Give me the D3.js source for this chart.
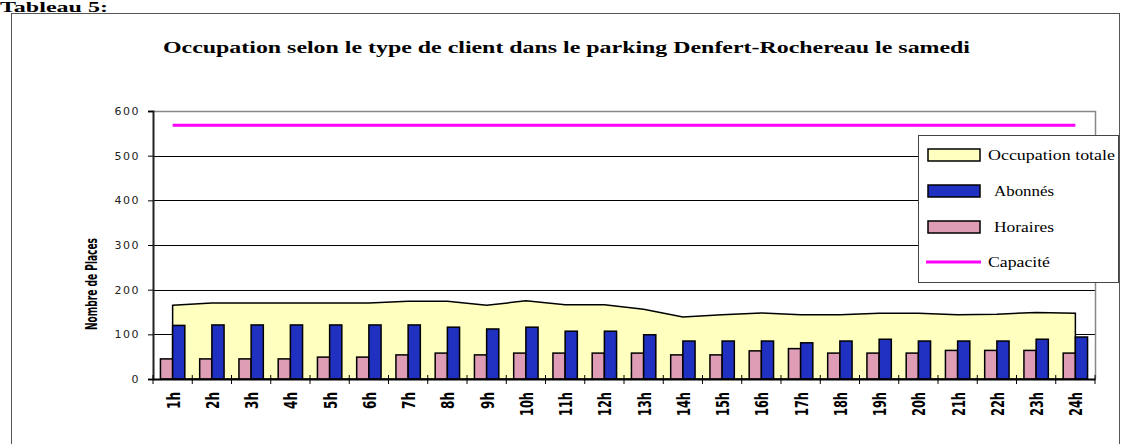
<!DOCTYPE html>
<html>
<head>
<meta charset="utf-8">
<script src="https://cdn.jsdelivr.net/npm/d3@7"></script>
<style>
  body { margin: 0; background: #fff; }
  svg { display: block; }
</style>
</head>
<body>
<div id="chart"></div>
<script>
// Occupation par heure - parking Denfert-Rochereau, samedi
const hours = ['1h','2h','3h','4h','5h','6h','7h','8h','9h','10h','11h','12h',
               '13h','14h','15h','16h','17h','18h','19h','20h','21h','22h','23h','24h'];
const totale  = [165,170,170,170,170,170,174,174,165,175,166,166,156,139,144,148,144,144,147,147,144,145,149,147];
const abonnes = [120,121,121,121,121,121,121,116,112,116,107,107,99,85,85,85,81,85,89,85,85,85,89,94];
const horaires = [45,45,45,45,49,49,54,58,54,58,58,58,58,54,54,63,68,58,58,58,64,64,64,58];
const capacite = 568;
const yTicks = [0, 100, 200, 300, 400, 500, 600];
const legendItems = ['Occupation totale', 'Abonnés', 'Horaires', 'Capacité'];

const W = 1126, H = 444;
const plotL = 153, plotR = 1095, plotT = 111, plotB = 379;
const serif = '"Liberation Serif", "DejaVu Serif", serif';

const svg = d3.select('#chart').append('svg')
    .attr('width', W).attr('height', H);

// page heading
svg.append('text')
    .attr('x', 0).attr('y', 12)
    .attr('textLength', 108).attr('lengthAdjust', 'spacingAndGlyphs')
    .style('font-family', serif).style('font-weight', 'bold').style('font-size', '14px')
    .text('Tableau 5:');

// outer frame
svg.append('rect')
    .attr('x', 11.5).attr('y', 13.5).attr('width', 1108).attr('height', 460)
    .attr('fill', 'none').attr('stroke', '#555').attr('stroke-width', 1);

// title
svg.append('text')
    .attr('x', 163).attr('y', 53)
    .attr('textLength', 807).attr('lengthAdjust', 'spacingAndGlyphs')
    .style('font-family', serif).style('font-weight', 'bold').style('font-size', '16px')
    .text('Occupation selon le type de client dans le parking Denfert-Rochereau le samedi');

// scales
const x = d3.scaleBand().domain(hours).range([plotL, plotR]).padding(0);
const xSub = d3.scaleBand().domain(['h', 'a']).range([0, x.bandwidth()])
    .paddingInner(0).paddingOuter(0.61);
const y = d3.scaleLinear().domain([0, 600]).range([plotB, plotT]);
const cx = d => x(d) + x.bandwidth() / 2;

// gridlines
svg.append('g').selectAll('line')
    .data(yTicks.filter(v => v > 0 && v < 600))
    .join('line')
    .attr('x1', plotL).attr('x2', plotR)
    .attr('y1', d => Math.round(y(d)) + 0.5).attr('y2', d => Math.round(y(d)) + 0.5)
    .attr('stroke', '#000').attr('stroke-width', 1);

// plot border top / right
svg.append('path')
    .attr('d', `M${plotL},${Math.round(y(600)) + 0.5}H${plotR + 0.5}V${plotB}`)
    .attr('fill', 'none').attr('stroke', '#888').attr('stroke-width', 1.5);

// total occupation area
const area = d3.area()
    .x((d, i) => cx(hours[i]))
    .y0(y(0))
    .y1(d => y(d));
svg.append('path')
    .datum(totale)
    .attr('d', area)
    .attr('fill', '#FFFFC0')
    .attr('stroke', '#000').attr('stroke-width', 1.5);

// bars
const barData = hours.map((h, i) => ({ h, hor: horaires[i], abo: abonnes[i] }));
const g = svg.append('g');
g.selectAll('.hor').data(barData).join('rect')
    .attr('class', 'hor')
    .attr('x', d => x(d.h) + xSub('h'))
    .attr('y', d => y(d.hor))
    .attr('width', xSub.bandwidth())
    .attr('height', d => y(0) - y(d.hor))
    .attr('fill', '#DE9DB5').attr('stroke', '#000').attr('stroke-width', 1.5);
g.selectAll('.abo').data(barData).join('rect')
    .attr('class', 'abo')
    .attr('x', d => x(d.h) + xSub('a'))
    .attr('y', d => y(d.abo))
    .attr('width', xSub.bandwidth())
    .attr('height', d => y(0) - y(d.abo))
    .attr('fill', '#2030C0').attr('stroke', '#000').attr('stroke-width', 1.5);

// capacity line
svg.append('path')
    .datum(hours)
    .attr('d', d3.line().x(d => cx(d)).y(() => y(capacite)))
    .attr('fill', 'none').attr('stroke', '#FF00FF').attr('stroke-width', 3);

// y axis
const yAxis = svg.append('g')
    .attr('transform', `translate(${plotL},0)`)
    .call(d3.axisLeft(y).tickValues(yTicks).tickSize(5).tickPadding(8));
yAxis.select('.domain').attr('stroke', '#222').attr('stroke-width', 2);
yAxis.selectAll('.tick line').attr('stroke', '#000');
yAxis.selectAll('.tick text')
    .style('font-family', '"DejaVu Sans", sans-serif').style('font-size', '11px')
    .style('letter-spacing', '1.5px').attr('fill', '#222');

// x axis
const xAxis = svg.append('g')
    .attr('transform', `translate(0,${plotB})`)
    .call(d3.axisBottom(x).tickSize(0).tickPadding(0));
xAxis.select('.domain').attr('stroke', '#000').attr('stroke-width', 2);
xAxis.selectAll('.tick text').remove();
xAxis.selectAll('.sep').data(d3.range(hours.length + 1)).join('line')
    .attr('class', 'sep')
    .attr('x1', i => plotL + i * x.step()).attr('x2', i => plotL + i * x.step())
    .attr('y1', -4).attr('y2', 5)
    .attr('stroke', '#000').attr('stroke-width', 1);

// rotated hour labels
svg.append('g').selectAll('text').data(hours).join('text')
    .attr('transform', d => `translate(${cx(d) + 7},392) rotate(-90)`)
    .attr('text-anchor', 'end')
    .attr('textLength', d => d.length > 2 ? 24 : 17)
    .attr('lengthAdjust', 'spacingAndGlyphs')
    .style('font-family', '"DejaVu Sans", sans-serif').style('font-weight', 'bold')
    .style('font-size', '17px')
    .text(d => d);

// y axis title
svg.append('text')
    .attr('transform', 'translate(97,284) rotate(-90)')
    .attr('text-anchor', 'middle')
    .attr('textLength', 92).attr('lengthAdjust', 'spacingAndGlyphs')
    .style('font-family', '"DejaVu Sans", sans-serif').style('font-weight', 'bold')
    .style('font-size', '15px')
    .text('Nombre de Places');

// legend
const lg = svg.append('g');
lg.append('rect')
    .attr('x', 918.5).attr('y', 135.5).attr('width', 200).attr('height', 147)
    .attr('fill', '#fff').attr('stroke', '#444').attr('stroke-width', 1);
const swatchFill = ['#FFFFC0', '#2030C0', '#DE9DB5'];
const rowY = [155, 191, 227, 262];
const textX = [988, 994, 994, 988];
const textLen = [127, 60, 60, 62];
legendItems.forEach((name, i) => {
    if (i < 3) {
        lg.append('rect')
            .attr('x', 928).attr('y', rowY[i] - 6).attr('width', 52).attr('height', 12)
            .attr('fill', swatchFill[i]).attr('stroke', '#000').attr('stroke-width', 1.5);
    } else {
        lg.append('line')
            .attr('x1', 926).attr('x2', 981).attr('y1', rowY[i]).attr('y2', rowY[i])
            .attr('stroke', '#FF00FF').attr('stroke-width', 3);
    }
    lg.append('text')
        .attr('x', textX[i]).attr('y', rowY[i] + 5)
        .attr('textLength', textLen[i]).attr('lengthAdjust', 'spacingAndGlyphs')
        .style('font-family', serif).style('font-size', '15px')
        .text(name);
});
</script>
</body>
</html>
